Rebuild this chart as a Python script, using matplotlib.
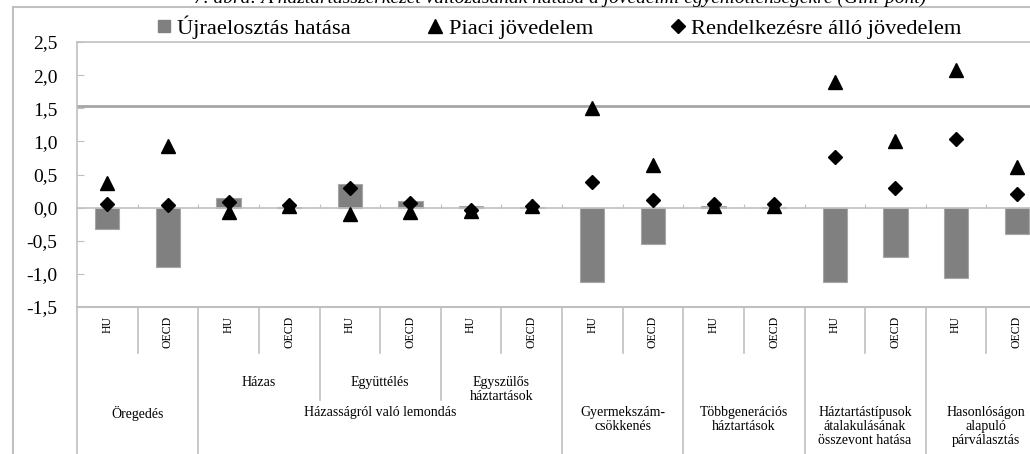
import matplotlib
matplotlib.use("Agg")
import matplotlib.pyplot as plt
from matplotlib.lines import Line2D
import matplotlib.transforms as mtransforms

plt.rcParams['font.family'] = ['Liberation Serif', 'DejaVu Serif']

# adatok (Gini-pont)
orszagok = ['HU', 'OECD'] * 8
ujraelosztas = [-0.33, -0.90, 0.14, 0.01, 0.36, 0.10, 0.02, 0.01,
                -1.13, -0.55, 0.03, 0.01, -1.13, -0.74, -1.06, -0.40]
piaci = [0.37, 0.93, -0.07, 0.02, -0.09, -0.06, -0.05, 0.02,
         1.50, 0.65, 0.03, 0.03, 1.89, 1.01, 2.07, 0.61]
rendelkezesre = [0.05, 0.035, 0.09, 0.04, 0.29, 0.065, -0.03, 0.02,
                 0.38, 0.11, 0.06, 0.05, 0.76, 0.29, 1.03, 0.21]
alcsoportok = [('Házas', 2, 4), ('Együttélés', 4, 6),
               ('Egyszülős\nháztartások', 6, 8)]
focsoportok = [('Öregedés', 0, 2), ('Házasságról való lemondás', 2, 8),
               ('Gyermekszám-\ncsökkenés', 8, 10),
               ('Többgenerációs\nháztartások', 10, 12),
               ('Háztartástípusok\nátalakulásának\nösszevont hatása', 12, 14),
               ('Hasonlóságon\nalapuló\npárválasztás', 14, 16)]
y_ticks = [-1.5, -1.0, -0.5, 0.0, 0.5, 1.0, 1.5, 2.0, 2.5]
cim = '7. ábra: A háztartásszerkezet változásának hatása a jövedelmi egyenlőtlenségekre (Gini-pont)'

racs = '#c0c0c0'
szurke = '#808080'

fig = plt.figure(figsize=(10.3, 4.54), dpi=100)
ax = fig.add_axes([77 / 1030, 147 / 454, 970 / 1030, 265 / 454])

x = list(range(len(orszagok)))
ax.bar(x, ujraelosztas, width=0.4, color=szurke, edgecolor='#a6a6a6', linewidth=0.8, zorder=2)
ax.plot(x, piaci, linestyle='none', marker='^', ms=10, color='black', zorder=3)
ax.plot(x, rendelkezesre, linestyle='none', marker='D', ms=7.5, color='black', zorder=4)

ax.axhline(1.53, color='#a6a6a6', lw=2, zorder=1)

ax.set_xlim(-0.5, len(x) - 0.5)
ax.set_ylim(-1.5, 2.5)
ax.set_yticks(y_ticks)
ax.set_yticklabels([f'{v:.1f}'.replace('.', ',') for v in y_ticks], fontsize=14)
ax.tick_params(axis='y', direction='in', length=5, color=racs, pad=14)

# kategoriatengely a nullánál
ax.spines['bottom'].set_position(('data', 0))
ax.set_xticks([k - 0.5 for k in range(1, len(x))])
ax.set_xticklabels([])
ax.tick_params(axis='x', direction='in', length=3, color=racs)
for s in ['bottom', 'left', 'top']:
    ax.spines[s].set_color(racs)
    ax.spines[s].set_linewidth(1.2)
ax.spines['right'].set_visible(False)
ax.axhline(-1.5, color=racs, lw=1.5, clip_on=False)

# többszintű kategóriafeliratok
tr = mtransforms.blended_transform_factory(ax.transData, ax.transAxes)
also = -0.6
fo_hatarok = sorted({h for _, a, b in focsoportok for h in (a, b)})
al_hatarok = sorted({h for _, a, b in alcsoportok for h in (a, b)} - set(fo_hatarok))
for k in range(len(x) + 1):
    if k in fo_hatarok:
        y1 = also
    elif k in al_hatarok:
        y1 = -0.351
    else:
        y1 = -0.1736
    ax.plot([k - 0.5, k - 0.5], [0, y1], transform=tr, color=racs, lw=1.2, clip_on=False)

for xi, nev in zip(x, orszagok):
    ax.text(xi, -0.034, nev, transform=tr, rotation=90, ha='center', va='top', fontsize=8.5)
for nev, a, b in alcsoportok:
    ax.text((a + b - 1) / 2, -0.26, nev, transform=tr, ha='center', va='top',
            fontsize=10, linespacing=1.1)
for nev, a, b in focsoportok:
    ax.text((a + b - 1) / 2, -0.374, nev, transform=tr, ha='center', va='top',
            fontsize=10, linespacing=1.1)

# jelmagyarázat
kezelok = [Line2D([], [], linestyle='none', marker='s', ms=9, color=szurke),
           Line2D([], [], linestyle='none', marker='^', ms=10, color='black'),
           Line2D([], [], linestyle='none', marker='D', ms=7, color='black')]
cimkek = ['Újraelosztás hatása', 'Piaci jövedelem', 'Rendelkezésre álló jövedelem']
fig.legend(kezelok, cimkek, loc='center left', bbox_to_anchor=(157 / 1030, 1 - 27 / 454),
           ncol=3, frameon=False, fontsize=16.2, borderpad=0, borderaxespad=0,
           handlelength=0.6, handletextpad=0.3, columnspacing=3.45)

# külső keret és levágott cím
fig.add_artist(Line2D([13 / 1030, 13 / 1030], [0, 1 - 7 / 454], transform=fig.transFigure,
                      color=racs, lw=1.5))
fig.add_artist(Line2D([13 / 1030, 1], [1 - 7 / 454, 1 - 7 / 454], transform=fig.transFigure,
                      color=racs, lw=1.5))
fig.text(560 / 1030, 1 - 3 / 454, cim, ha='center', va='baseline', fontsize=14, style='italic')

fig.savefig('out.png', dpi=100)
